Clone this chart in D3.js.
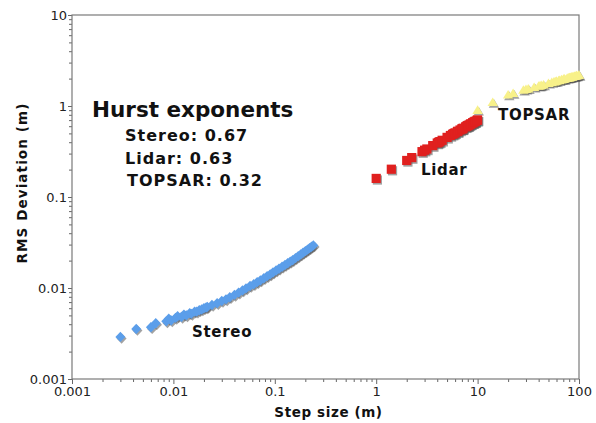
<!DOCTYPE html>
<html>
<head>
<meta charset="utf-8">
<script src="https://cdn.jsdelivr.net/npm/d3@7"></script>
<style>
  body { margin: 0; background: #fff; }
  svg { display: block; }
  .tick text { font-family: "DejaVu Sans", Verdana, sans-serif; font-size: 13px; fill: #222; }
  .bold { font-family: "DejaVu Sans", Verdana, sans-serif; font-weight: bold; fill: #111; }
</style>
</head>
<body>
<div id="chart"></div>
<script>
// step size (m) / RMS deviation (m)
var stereoStep = [0.003, 0.0043, 0.006, 0.0067, 0.0085, 0.009, 0.0095, 0.0105, 0.011, 0.012, 0.0127, 0.0134, 0.0145, 0.015, 0.0162, 0.017, 0.018, 0.019, 0.02, 0.021, 0.0216, 0.024, 0.027, 0.03, 0.033, 0.036, 0.04, 0.044, 0.048, 0.052, 0.057, 0.062, 0.067, 0.072, 0.078, 0.084, 0.09, 0.096, 0.103, 0.11, 0.118, 0.126, 0.134, 0.142, 0.15, 0.16, 0.17, 0.18, 0.19, 0.2, 0.21, 0.22, 0.23, 0.24];
var stereoRms = [0.0029, 0.00355, 0.0037, 0.0041, 0.0043, 0.0046, 0.0044, 0.0047, 0.0049, 0.0048, 0.0051, 0.0050, 0.0053, 0.0052, 0.0055, 0.0055, 0.0057, 0.0058, 0.0060, 0.0061, 0.0062, 0.0065, 0.0068, 0.0072, 0.0075, 0.0079, 0.0084, 0.0089, 0.0094, 0.0099, 0.0105, 0.0110, 0.0116, 0.0121, 0.0128, 0.0135, 0.0141, 0.0148, 0.0156, 0.0163, 0.0171, 0.0179, 0.0187, 0.0195, 0.0202, 0.0213, 0.0223, 0.0233, 0.0244, 0.0254, 0.0264, 0.0274, 0.0284, 0.0294];

var lidarStep = [1, 1.41, 2, 2.24, 2.83, 3, 3.16, 3.61, 4, 4.12, 4.24, 4.47, 5, 5.39, 5.66, 5.83, 6, 6.32, 6.4, 6.71, 7, 7.07, 7.21, 7.62, 7.81, 8, 8.06, 8.25, 8.49, 8.6, 8.94, 9, 9.22, 9.43, 9.49, 9.85, 10];
var lidarRms = [0.16, 0.202, 0.252, 0.271, 0.315, 0.327, 0.337, 0.367, 0.392, 0.399, 0.406, 0.42, 0.452, 0.474, 0.489, 0.498, 0.507, 0.524, 0.528, 0.545, 0.559, 0.562, 0.57, 0.59, 0.6, 0.608, 0.611, 0.62, 0.632, 0.637, 0.653, 0.656, 0.667, 0.676, 0.678, 0.695, 0.702];

var topsarStep = [10, 14.1, 20, 22.4, 28.3, 30, 31.6, 36.1, 40, 41.2, 42.4, 44.7, 50, 53.9, 56.6, 58.3, 60, 63.2, 64, 67.1, 70, 70.7, 72.1, 76.2, 78.1, 80, 80.6, 82.5, 84.9, 86, 89.4, 90, 92.2, 94.3, 94.9, 98.5, 100];
var topsarRms = [0.90, 1.10, 1.33, 1.38, 1.50, 1.53, 1.55, 1.61, 1.66, 1.67, 1.69, 1.71, 1.78, 1.82, 1.85, 1.86, 1.88, 1.91, 1.92, 1.95, 1.97, 1.98, 1.99, 2.02, 2.04, 2.05, 2.06, 2.07, 2.09, 2.10, 2.12, 2.12, 2.14, 2.15, 2.16, 2.18, 2.19];

var xTicks = [0.001, 0.01, 0.1, 1, 10, 100];
var xTickLabels = ["0.001", "0.01", "0.1", "1", "10", "100"];
var yTicks = [0.001, 0.01, 0.1, 1, 10];
var yTickLabels = ["0.001", "0.01", "0.1", "1", "10"];

var hurstTitle = "Hurst exponents";
var hurstLines = ["Stereo: 0.67", "Lidar: 0.63", "TOPSAR: 0.32"];

var W = 596, H = 423;
var mLeft = 72, mRight = 579, mTop = 15, mBottom = 379;

var svg = d3.select("#chart").append("svg")
    .attr("width", W)
    .attr("height", H);

svg.append("rect").attr("width", W).attr("height", H).attr("fill", "#fff");

var x = d3.scaleLog().domain([0.001, 100]).range([mLeft, mRight]);
var y = d3.scaleLog().domain([0.001, 10]).range([mBottom, mTop]);

// minor ticks first, then majors with labels
var xMinor = x.ticks().filter(function(d){ return xTicks.indexOf(d) < 0; });
var yMinor = y.ticks().filter(function(d){ return yTicks.indexOf(d) < 0; });

var gx = svg.append("g").attr("transform", "translate(0," + mBottom + ")");
gx.call(d3.axisBottom(x).tickValues(xMinor).tickFormat("").tickSize(3).tickSizeOuter(0));
gx.append("g").call(d3.axisBottom(x).tickValues(xTicks)
    .tickFormat(function(d, i){ return xTickLabels[i]; })
    .tickSize(5).tickPadding(3).tickSizeOuter(0));

var gy = svg.append("g").attr("transform", "translate(" + mLeft + ",0)");
gy.call(d3.axisLeft(y).tickValues(yMinor).tickFormat("").tickSize(3).tickSizeOuter(0));
gy.append("g").call(d3.axisLeft(y).tickValues(yTicks)
    .tickFormat(function(d, i){ return yTickLabels[i]; })
    .tickSize(4).tickPadding(1).tickSizeOuter(0));

svg.selectAll(".domain").remove();
svg.selectAll(".tick line").attr("stroke", "#666");

// plot frame
svg.append("rect")
    .attr("x", mLeft).attr("y", mTop)
    .attr("width", mRight - mLeft).attr("height", mBottom - mTop)
    .attr("fill", "none").attr("stroke", "#7a7a7a").attr("stroke-width", 1.2);

// axis titles
svg.append("text").attr("class", "bold")
    .attr("x", (mLeft + mRight) / 2 + 3).attr("y", 417)
    .attr("text-anchor", "middle").attr("font-size", "13.5px")
    .attr("letter-spacing", "0.6px")
    .text("Step size (m)");

svg.append("text").attr("class", "bold")
    .attr("transform", "translate(27," + ((mTop + mBottom) / 2 - 14) + ") rotate(-90)")
    .attr("text-anchor", "middle").attr("font-size", "13.5px")
    .attr("letter-spacing", "1.1px")
    .text("RMS Deviation (m)");

var diamond = "M0,-5.2L5,0L0,5.2L-5,0Z";
var square = "M-4.6,-4.6H4.6V4.6H-4.6Z";
var triangle = "M0,-4.8L5.2,3.8H-5.2Z";

function drawSeries(steps, rms, shape, color) {
    var pts = steps.map(function(d, i){ return { s: d, r: rms[i] }; });
    var g = svg.append("g");
    g.selectAll("path.shadow")
        .data(pts)
        .enter().append("path")
        .attr("class", "shadow")
        .attr("d", shape)
        .attr("fill", "#555")
        .attr("opacity", 0.55)
        .attr("transform", function(d){ return "translate(" + (x(d.s) + 1.2) + "," + (y(d.r) + 1.6) + ")"; });
    g.selectAll("path.mark")
        .data(pts)
        .enter().append("path")
        .attr("class", "mark")
        .attr("d", shape)
        .attr("fill", color)
        .attr("transform", function(d){ return "translate(" + x(d.s) + "," + y(d.r) + ")"; });
}

drawSeries(stereoStep, stereoRms, diamond, "#5b9eea");
drawSeries(topsarStep, topsarRms, triangle, "#f8f18a");
drawSeries(lidarStep, lidarRms, square, "#e0201f");

// annotations
svg.append("text").attr("class", "bold")
    .attr("x", 92).attr("y", 117).attr("font-size", "21.5px")
    .text(hurstTitle);

svg.selectAll("text.hurst")
    .data(hurstLines)
    .enter().append("text")
    .attr("class", "bold hurst")
    .attr("x", function(d, i){ return i === 2 ? 127 : 125; })
    .attr("y", function(d, i){ return 141 + i * 22.5; })
    .attr("font-size", "16px")
    .attr("letter-spacing", "1px")
    .text(function(d){ return d; });

var seriesLabels = svg.append("g")
    .attr("font-size", "15px")
    .attr("letter-spacing", "0.7px");
seriesLabels.append("text").attr("class", "bold")
    .attr("x", 192).attr("y", 337).text("Stereo");
seriesLabels.append("text").attr("class", "bold")
    .attr("x", 421).attr("y", 175).text("Lidar");
seriesLabels.append("text").attr("class", "bold")
    .attr("x", 498).attr("y", 120).text("TOPSAR");
</script>
</body>
</html>
